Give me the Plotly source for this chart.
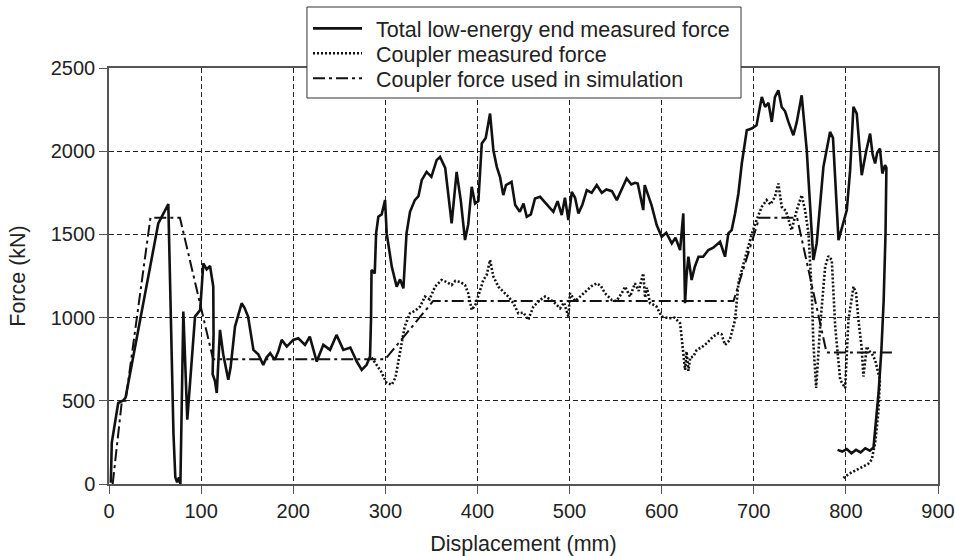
import plotly.graph_objects as go

# Total low-energy end measured force (displacement mm, force kN)
total_x = [2, 3, 10, 15.5, 18, 53.5, 64.4, 67, 70, 72, 74, 76, 77.5, 80.7, 85, 93.4, 99, 102.4, 106, 109.7,
           113.2, 113.5, 112.5, 115, 117, 120.5, 124, 129.5, 132, 136.8, 144, 147, 151, 156.8, 162, 167.5, 171,
           175, 180, 184, 187.5, 193, 200, 205.5, 212.8, 218, 225.5, 232.7, 240, 247, 254.4, 262, 269, 274.4,
           279.7, 283.4, 284.5, 285, 288.5, 290, 292.4, 296, 299.7, 301.5, 304, 307, 312.3, 316, 319.6, 323,
           326.8, 332, 336, 339.5, 344.8, 350, 355.7, 359.4, 365, 372, 377.4, 382, 386.5, 390, 393.8, 397.4,
           401, 404.7, 409, 413.7, 417.3, 421, 424.5, 428, 431, 437, 441, 446, 450, 453.5, 458, 462.5, 468,
           475, 482.4, 487, 491.5, 495, 498.7, 502.4, 506, 509.6, 514, 518.7, 524, 529.5, 535, 540, 546,
           551.3, 556, 562, 567, 571, 574, 580, 581.6, 585, 589, 594.6, 600, 605, 611, 615, 620, 623.5,
           625.4, 627, 629, 632.5, 636, 640, 645, 650.7, 656, 663.4, 668.8, 672.4, 676, 679.7, 683.3, 687,
           692.4, 697.7, 703, 708.7, 712.3, 716, 719.5, 723, 726.7, 730.3, 734, 737.6, 743, 746.7, 752, 757.5,
           763, 764.7, 768.3, 775.6, 782.8, 786, 792, 801, 804.6, 808.2, 811.8, 817.2, 822, 826.3, 829, 831.7,
           834, 837, 839.6, 842.5, 844, 843, 841, 838.5, 835.5, 832.5, 830, 826, 821, 816, 811, 806, 801,
           796, 791]
total_y = [7, 247, 487, 502, 520, 1566, 1682, 1000, 300, 40, 10, 40, 0, 1036, 387, 1006, 1046, 1326, 1290, 1310,
           1186, 900, 660, 620, 547, 926, 780, 626, 700, 946, 1086, 1060, 1006, 806, 780, 716, 760,
           786, 746, 800, 866, 826, 866, 876, 836, 886, 736, 836, 806, 896, 806, 820, 736, 686,
           716, 766, 1000, 1286, 1266, 1506, 1606, 1620, 1706, 1506, 1400, 1306, 1186, 1230, 1176, 1506,
           1636, 1706, 1730, 1826, 1876, 1846, 1946, 1966, 1900, 1566, 1876, 1700, 1466, 1560, 1786, 1686,
           1700, 2046, 2080, 2226, 2006, 1906, 1846, 1736, 1796, 1816, 1676, 1636, 1686, 1606, 1620, 1716, 1726,
           1680, 1636, 1700, 1616, 1720, 1586, 1756, 1720, 1626, 1680, 1766, 1750, 1796, 1750, 1770, 1760,
           1706, 1760, 1836, 1800, 1810, 1806, 1646, 1796, 1740, 1676, 1556, 1486, 1510, 1446, 1480, 1406, 1626,
           1086, 1250, 1366, 1226, 1306, 1366, 1366, 1406, 1420, 1456, 1366, 1506, 1526, 1626, 1746, 1926,
           2126, 2136, 2156, 2326, 2266, 2290, 2176, 2326, 2366, 2266, 2240, 2176, 2096, 2176, 2336, 2006,
           1506, 1346, 1446, 1906, 2116, 2080, 1466, 1646, 1886, 2266, 2226, 1856, 2000, 2106, 1980, 1926,
           1990, 2016, 1866, 1916, 1900, 1500, 1100, 800, 550, 350, 220, 200, 215, 190, 205, 185, 210,
           195, 205]

# Coupler measured force
coupler_x = [285, 289, 295, 301.5, 307, 311, 316, 321, 326.8, 332, 337.7, 343, 348, 354, 361, 366, 372, 376,
             381, 386.5, 390, 393.8, 398, 402.8, 406.4, 410, 413.7, 417.3, 422.7, 428, 433.6, 439, 444.4, 450,
             455, 460.7, 468, 473.4, 479, 484.3, 489.7, 494, 498.7, 500.5, 506, 511.4, 518.7, 524, 529.5, 534,
             538.5, 545.8, 551, 556.6, 560.3, 565.7, 571, 575, 580, 582, 584, 587.4, 594, 600, 605, 609, 614,
             620, 621.6, 623.5, 625.4, 627, 629, 631, 634.4, 638, 643, 649, 656, 661.6, 665, 668.8, 674, 679.7,
             683.3, 687, 692.4, 697.7, 703, 708.7, 714, 718, 723, 726.7, 730.3, 735, 741, 746.7, 752, 755.7,
             759.4, 763, 764.7, 767.7, 772, 777.5, 781, 784.7, 788.4, 793.8, 799.2, 802.8, 808.2, 811, 813.6,
             817, 819, 822.7, 825, 828, 831.7, 834, 837, 835.2, 831.7, 828, 824, 819, 813, 808.2, 803, 797.3]
coupler_y = [760, 726, 680, 607, 597, 640, 786, 946, 1026, 1040, 1066, 1126, 1110, 1186, 1226, 1215, 1196, 1220,
             1215, 1196, 1146, 1046, 1080, 1156, 1226, 1256, 1346, 1246, 1186, 1156, 1126, 1086, 1026, 1030,
             986, 1066, 1106, 1126, 1110, 1086, 1056, 1090, 1006, 1146, 1100, 1126, 1166, 1190, 1206, 1190,
             1146, 1106, 1100, 1146, 1186, 1126, 1206, 1160, 1266, 1120, 1180, 1086, 1070, 1006, 1000, 996, 1000,
             966, 886, 766, 686, 796, 680, 760, 766, 806, 820, 846, 886, 906, 900, 836, 866, 986,
             1206, 1286, 1400, 1500, 1586, 1666, 1706, 1680, 1726, 1806, 1666, 1640, 1526, 1646, 1736, 1646,
             1506, 1146, 846, 577, 946, 1306, 1370, 1346, 946, 626, 577, 986, 1186, 1150, 986,
             826, 646, 826, 800, 786, 746, 700, 626, 426, 246, 146, 120, 106, 90, 76, 60, 36]

# Coupler force used in simulation
sim_x = [4, 14, 18, 45, 77, 113, 300, 352, 678, 706, 747, 779, 850]
sim_y = [0, 500, 500, 1600, 1600, 750, 750, 1100, 1100, 1600, 1600, 790, 790]

x_ticks = [0, 100, 200, 300, 400, 500, 600, 700, 800, 900]
y_ticks = [0, 500, 1000, 1500, 2000, 2500]

series_names = ["Total low-energy end measured force",
                "Coupler measured force",
                "Coupler force used in simulation"]

FONT = "Liberation Sans, Arial, sans-serif"
INK = "#111111"
TEXT = "#222222"

line_styles = [dict(color=INK, width=2.6),
               dict(color=INK, width=2.6, dash="2px,2px"),
               dict(color=INK, width=2, dash="12px,4px,3px,4px")]

fig = go.Figure()
for xs, ys, name, style in zip([total_x, coupler_x, sim_x], [total_y, coupler_y, sim_y],
                               series_names, line_styles):
    fig.add_trace(go.Scatter(x=xs, y=ys, mode="lines", name=name, line=style,
                             showlegend=False))

axis_common = dict(
    showgrid=True, gridcolor="#222", gridwidth=1, griddash="5px,3px",
    showline=True, linecolor="#555", linewidth=1.5, mirror=True,
    ticks="outside", ticklen=8, tickcolor="#555", tickwidth=1.2,
    tickfont=dict(family=FONT, size=20, color=TEXT),
    zeroline=False, automargin=False,
)

# Compact boxed key above the plot frame (paper coordinates)
box_x0, box_x1, box_y0, box_y1 = 0.2388, 0.7624, 0.9279, 1.1466
row_y = [1.0913, 1.0313, 0.9712]
sample_x0, sample_x1, text_x = 0.2461, 0.3052, 0.3200

shapes = [dict(type="rect", xref="paper", yref="paper", x0=box_x0, x1=box_x1, y0=box_y0, y1=box_y1,
               fillcolor="white", line=dict(color="#333", width=1), layer="above")]
annotations = []
for ry, name, style in zip(row_y, series_names, line_styles):
    shapes.append(dict(type="line", xref="paper", yref="paper", x0=sample_x0, x1=sample_x1,
                       y0=ry + 0.004, y1=ry + 0.004, line=style, layer="above"))
    annotations.append(dict(xref="paper", yref="paper", x=text_x, y=ry, text=name, showarrow=False,
                            xanchor="left", yanchor="middle",
                            font=dict(family=FONT, size=21.5, color=TEXT)))

fig.update_layout(
    width=955, height=556,
    margin=dict(l=109, r=17, t=68, b=72, autoexpand=False),
    paper_bgcolor="white", plot_bgcolor="white",
    font=dict(family=FONT, size=20, color=TEXT),
    xaxis=dict(range=[0, 900], tickvals=x_ticks,
               title=dict(text="Displacement (mm)", standoff=15,
                          font=dict(family=FONT, size=21.5, color=TEXT)),
               **axis_common),
    yaxis=dict(range=[0, 2500], tickvals=y_ticks,
               title=dict(text="Force (kN)", standoff=19,
                          font=dict(family=FONT, size=21.5, color=TEXT)),
               **axis_common),
    shapes=shapes,
    annotations=annotations,
    showlegend=False,
)

fig.write_html("out.html")
